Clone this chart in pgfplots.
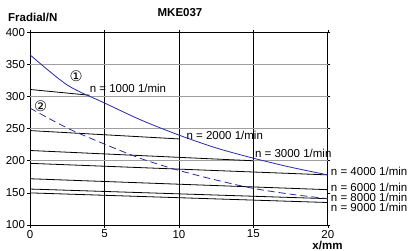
\documentclass[border=0pt]{standalone}
\usepackage{fontspec}
\setmainfont{Liberation Sans}
\newfontfamily\dejavu{DejaVu Sans}
\usepackage{pgfplots}
\pgfplotsset{compat=1.18}
\definecolor{cblue}{RGB}{40,40,170}
\begin{document}
\fontsize{11.5bp}{13bp}\selectfont
\begin{tikzpicture}
\path[use as bounding box] (-30bp,-26bp) rectangle (379bp,225bp);
\begin{axis}[
  anchor=south west, at={(0,0)},
  scale only axis, width=297.8bp, height=192.7bp,
  xmin=0, xmax=20, ymin=100, ymax=400,
  xtick={0,5,10,15,20}, ytick={100,150,...,400},
  /pgf/number format/assume math mode=true,
  tick label style={font=\fontsize{11.5bp}{13bp}\selectfont},
  tick align=outside, major tick length=2.5bp,
  xticklabel style={yshift=1.5bp},
  yticklabel style={xshift=1.5bp},
  xmajorgrids, x grid style={black, line width=0.8bp},
  extra y ticks={200,250,300,350},
  extra y tick labels={},
  extra y tick style={grid=major, major tick length=0pt, major grid style={gray!75, line width=1.3bp}},
  axis line style={black, line width=0.8bp},
  tick style={black, line width=0.6bp},
  clip=false,
]
% speed lines
\addplot[black, line width=0.8bp] coordinates {(0,311) (4,302)};
\addplot[black, line width=0.8bp] coordinates {(0,247) (10,234)};
\addplot[black, line width=0.8bp] coordinates {(0,216) (15,200)};
\addplot[black, line width=0.8bp] coordinates {(0,196) (20,178)};
\addplot[black, line width=0.8bp] coordinates {(0,172) (20,155)};
\addplot[black, line width=0.8bp] coordinates {(0,156) (20,141)};
\addplot[black, line width=0.8bp] coordinates {(0,150) (20,135)};
% curves
\addplot[cblue, line width=0.8bp, smooth] coordinates {(0,365) (2.5,318) (5,290) (7.5,263) (10,240) (12.5,220) (15,204) (17.5,190) (20,178)};
\addplot[cblue, line width=0.8bp, smooth, dash pattern=on 7bp off 4bp] coordinates {(0,282) (2.5,251) (5,226) (7.5,203) (10,185) (12.5,170) (15,157) (17.5,148) (20,141)};
% labels
\node[inner sep=0, anchor=center] at (axis cs:3.1,332) {\dejavu\fontsize{14.5bp}{15bp}\selectfont ①};
\node[inner sep=0, anchor=center] at (axis cs:0.72,285) {\dejavu\fontsize{14.5bp}{15bp}\selectfont ②};
\node[inner sep=0, anchor=west] at (axis cs:4.0,313) {n = 1000 1/min};
\node[inner sep=0, anchor=west] at (axis cs:10.5,240) {n = 2000 1/min};
\node[inner sep=0, anchor=west] at (axis cs:15.1,212) {n = 3000 1/min};
\node[inner sep=0, anchor=west] at (axis cs:20.2,183) {n = 4000 1/min};
\node[inner sep=0, anchor=west] at (axis cs:20.2,159) {n = 6000 1/min};
\node[inner sep=0, anchor=west] at (axis cs:20.2,142.5) {n = 8000 1/min};
\node[inner sep=0, anchor=west] at (axis cs:20.2,128) {n = 9000 1/min};
\end{axis}
\node[inner sep=0, anchor=west, font=\bfseries] at (-22bp,208bp) {Fradial/N};
\node[inner sep=0, font=\bfseries] at (150bp,212bp) {MKE037};
\node[inner sep=0, font=\bfseries] at (297.5bp,-20.5bp) {x/mm};
\end{tikzpicture}
\end{document}
